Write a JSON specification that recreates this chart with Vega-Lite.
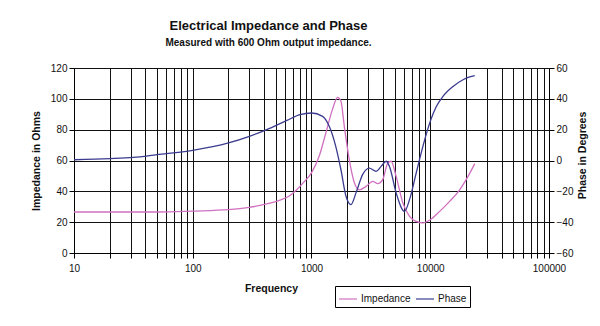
{
  "$schema": "https://vega.github.io/schema/vega-lite/v6.json",
  "autosize": {"type": "none"},
  "width": 475,
  "height": 185,
  "padding": {"left": 74, "top": 68, "right": 51, "bottom": 73},
  "background": "white",
  "config": {
    "font": "Liberation Sans",
    "view": {"stroke": "black", "strokeWidth": 1},
    "axis": {"labelFont": "Liberation Sans", "labelFontSize": 10, "labelColor": "#111", "titleFont": "Liberation Sans", "titleFontSize": 10.5, "titleFontWeight": "bold", "titleColor": "#111", "domainColor": "black", "tickColor": "black", "gridColor": "#111", "gridOpacity": 1, "gridWidth": 1, "tickSize": 5}
  },
  "title": {
    "text": "Electrical Impedance and Phase",
    "subtitle": "Measured with 600 Ohm output impedance.",
    "font": "Liberation Sans",
    "fontSize": 13,
    "fontWeight": "bold",
    "color": "#111",
    "subtitleFont": "Liberation Sans",
    "subtitleFontSize": 10,
    "subtitleFontWeight": "bold",
    "subtitleColor": "#111",
    "subtitlePadding": 5,
    "anchor": "middle",
    "dx": -43,
    "offset": 15
  },
  "data": {
    "values": [
      {"series": "Impedance", "freq": 10, "value": 26.6},
      {"series": "Impedance", "freq": 20, "value": 26.6},
      {"series": "Impedance", "freq": 50, "value": 26.6},
      {"series": "Impedance", "freq": 100, "value": 27.2},
      {"series": "Impedance", "freq": 200, "value": 28.1},
      {"series": "Impedance", "freq": 300, "value": 29.6},
      {"series": "Impedance", "freq": 420, "value": 31.8},
      {"series": "Impedance", "freq": 550, "value": 34.5},
      {"series": "Impedance", "freq": 650, "value": 37},
      {"series": "Impedance", "freq": 750, "value": 41},
      {"series": "Impedance", "freq": 850, "value": 45.5},
      {"series": "Impedance", "freq": 1000, "value": 52},
      {"series": "Impedance", "freq": 1160, "value": 62.7},
      {"series": "Impedance", "freq": 1320, "value": 77.8},
      {"series": "Impedance", "freq": 1500, "value": 93},
      {"series": "Impedance", "freq": 1660, "value": 101},
      {"series": "Impedance", "freq": 1770, "value": 98.4},
      {"series": "Impedance", "freq": 1890, "value": 82},
      {"series": "Impedance", "freq": 2080, "value": 60.5},
      {"series": "Impedance", "freq": 2300, "value": 45.4},
      {"series": "Impedance", "freq": 2530, "value": 41},
      {"series": "Impedance", "freq": 2880, "value": 43.2},
      {"series": "Impedance", "freq": 3280, "value": 46.5},
      {"series": "Impedance", "freq": 3610, "value": 45},
      {"series": "Impedance", "freq": 3980, "value": 47.6},
      {"series": "Impedance", "freq": 4390, "value": 58.4},
      {"series": "Impedance", "freq": 4680, "value": 59.5},
      {"series": "Impedance", "freq": 5160, "value": 49.7},
      {"series": "Impedance", "freq": 5880, "value": 32.4},
      {"series": "Impedance", "freq": 6690, "value": 23.8},
      {"series": "Impedance", "freq": 7620, "value": 20.5},
      {"series": "Impedance", "freq": 8670, "value": 19.5},
      {"series": "Impedance", "freq": 10000, "value": 21.6},
      {"series": "Impedance", "freq": 12000, "value": 27},
      {"series": "Impedance", "freq": 14560, "value": 33.5},
      {"series": "Impedance", "freq": 17700, "value": 41},
      {"series": "Impedance", "freq": 20800, "value": 49.7},
      {"series": "Impedance", "freq": 23700, "value": 58},
      {"series": "Phase", "freq": 10, "value": 0.5},
      {"series": "Phase", "freq": 20, "value": 1.2},
      {"series": "Phase", "freq": 31.6, "value": 2},
      {"series": "Phase", "freq": 50, "value": 3.8},
      {"series": "Phase", "freq": 100, "value": 6.6},
      {"series": "Phase", "freq": 200, "value": 11.4},
      {"series": "Phase", "freq": 300, "value": 15.7},
      {"series": "Phase", "freq": 420, "value": 20},
      {"series": "Phase", "freq": 620, "value": 26},
      {"series": "Phase", "freq": 800, "value": 29.7},
      {"series": "Phase", "freq": 1000, "value": 30.8},
      {"series": "Phase", "freq": 1240, "value": 28.6},
      {"series": "Phase", "freq": 1410, "value": 22.2},
      {"series": "Phase", "freq": 1600, "value": 9.2},
      {"series": "Phase", "freq": 1770, "value": -6},
      {"series": "Phase", "freq": 1950, "value": -23},
      {"series": "Phase", "freq": 2150, "value": -28.6},
      {"series": "Phase", "freq": 2370, "value": -21},
      {"series": "Phase", "freq": 2700, "value": -9},
      {"series": "Phase", "freq": 3070, "value": -4.9},
      {"series": "Phase", "freq": 3500, "value": -7},
      {"series": "Phase", "freq": 3860, "value": -3.8},
      {"series": "Phase", "freq": 4250, "value": -0.5},
      {"series": "Phase", "freq": 4530, "value": -3.8},
      {"series": "Phase", "freq": 5160, "value": -21},
      {"series": "Phase", "freq": 6070, "value": -33},
      {"series": "Phase", "freq": 6690, "value": -25.4},
      {"series": "Phase", "freq": 7620, "value": -8},
      {"series": "Phase", "freq": 8670, "value": 9.2},
      {"series": "Phase", "freq": 10000, "value": 25.4},
      {"series": "Phase", "freq": 11250, "value": 35},
      {"series": "Phase", "freq": 12800, "value": 41.6},
      {"series": "Phase", "freq": 15550, "value": 48},
      {"series": "Phase", "freq": 18880, "value": 52.4},
      {"series": "Phase", "freq": 21480, "value": 54.2},
      {"series": "Phase", "freq": 23700, "value": 55}
    ]
  },
  "encoding": {
    "x": {
      "field": "freq",
      "type": "quantitative",
      "title": "Frequency",
      "scale": {"type": "log", "domain": [10, 100000], "nice": false},
      "axis": {
        "values": [10,20,30,40,50,60,70,80,90,100,200,300,400,500,600,700,800,900,1000,2000,3000,4000,5000,6000,7000,8000,9000,10000,20000,30000,40000,50000,60000,70000,80000,90000,100000],
        "labelExpr": "indexof([10,100,1000,10000,100000], datum.value) >= 0 ? format(datum.value, 'd') : ''",
        "labelFlush": false,
        "labelOverlap": false,
        "labelPadding": 5,
        "grid": true,
        "titleX": 197,
        "titleY": 30,
        "titleBaseline": "top"
      }
    },
    "color": {
      "field": "series",
      "type": "nominal",
      "scale": {"domain": ["Impedance", "Phase"], "range": ["#d070c0", "#3b3b8f"]},
      "legend": {
        "title": null,
        "orient": "none",
        "legendX": 261,
        "legendY": 218,
        "direction": "horizontal",
        "strokeColor": "black",
        "fillColor": "white",
        "padding": 3,
        "symbolType": "stroke",
        "symbolSize": 324,
        "symbolStrokeWidth": 1.2,
        "labelFont": "Liberation Sans",
        "labelFontSize": 10,
        "labelColor": "#111",
        "labelOffset": 3,
        "columnPadding": 2
      }
    }
  },
  "layer": [
    {
      "transform": [{"filter": "datum.series === 'Impedance'"}],
      "mark": {"type": "line", "strokeWidth": 1.3, "interpolate": "monotone"},
      "encoding": {
        "y": {
          "field": "value",
          "type": "quantitative",
          "title": "Impedance in Ohms",
          "scale": {"domain": [0, 120], "nice": false},
          "axis": {"values": [0,20,40,60,80,100,120], "grid": true, "titlePadding": 9}
        }
      }
    },
    {
      "transform": [{"filter": "datum.series === 'Phase'"}],
      "mark": {"type": "line", "strokeWidth": 1.3, "interpolate": "monotone"},
      "encoding": {
        "y": {
          "field": "value",
          "type": "quantitative",
          "title": "Phase in Degrees",
          "scale": {"domain": [-60, 60], "nice": false},
          "axis": {"orient": "right", "values": [-60,-40,-20,0,20,40,60], "grid": false, "titleAngle": 270, "titleX": 33, "titleY": 87, "titleBaseline": "middle", "titleAlign": "center"}
        }
      }
    }
  ],
  "resolve": {"scale": {"y": "independent"}}
}
